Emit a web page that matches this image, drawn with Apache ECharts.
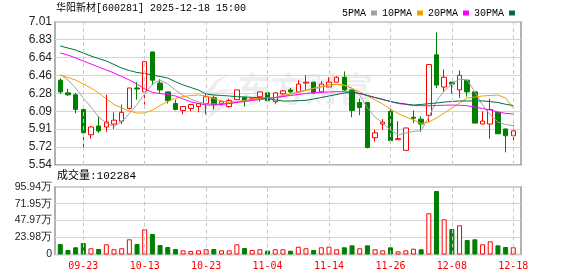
<!DOCTYPE html>
<html><head><meta charset="utf-8">
<script src="https://cdn.jsdelivr.net/npm/echarts@6/dist/echarts.min.js"></script>
<style>html,body{margin:0;padding:0;background:#fff}#c{width:578px;height:276px}</style>
</head><body><div id="c"></div><script>
const dates = ['09-18','09-19','09-22','09-23','09-24','09-25','09-26','09-29','09-30','10-09',
 '10-10','10-13','10-14','10-15','10-16','10-17','10-20','10-21','10-22','10-23',
 '10-24','10-27','10-28','10-29','10-30','10-31','11-03','11-04','11-05','11-06',
 '11-07','11-10','11-11','11-12','11-13','11-14','11-17','11-18','11-19','11-20',
 '11-21','11-24','11-25','11-26','11-27','11-28','12-01','12-02','12-03','12-04',
 '12-05','12-08','12-09','12-10','12-11','12-12','12-15','12-16','12-17','12-18'];
const openP = [6.41,6.28,6.26,6.11,5.85,5.94,5.93,5.96,5.99,6.12,
 6.33,6.29,6.70,6.38,6.29,6.17,6.10,6.12,6.14,6.17,
 6.23,6.17,6.14,6.21,6.23,6.21,6.24,6.28,6.19,6.27,
 6.31,6.29,6.38,6.39,6.29,6.34,6.39,6.44,6.31,6.18,
 6.18,5.82,5.96,6.09,5.80,5.69,6.03,6.01,6.05,6.67,
 6.34,6.39,6.31,6.41,6.29,5.96,5.96,6.08,5.91,5.84];
const closeP = [6.29,6.26,6.11,5.87,5.93,5.89,5.98,6.00,6.08,6.33,
 6.32,6.60,6.41,6.31,6.20,6.11,6.14,6.16,6.17,6.24,
 6.16,6.19,6.20,6.31,6.20,6.22,6.29,6.20,6.28,6.30,
 6.29,6.37,6.39,6.28,6.37,6.39,6.44,6.31,6.10,6.13,
 5.72,5.87,5.98,5.79,5.81,5.92,6.02,5.96,6.57,6.36,
 6.44,6.37,6.46,6.29,5.97,5.99,6.11,5.86,5.84,5.89];
const highP = [6.43,6.32,6.28,6.11,5.94,6.04,6.26,6.08,6.16,6.33,
 6.39,6.60,6.70,6.42,6.29,6.21,6.14,6.17,6.17,6.27,
 6.25,6.20,6.22,6.31,6.24,6.23,6.29,6.30,6.29,6.31,
 6.33,6.41,6.46,6.39,6.40,6.44,6.45,6.50,6.31,6.22,
 6.18,5.90,6.01,6.15,5.99,5.92,6.10,6.04,6.57,6.90,
 6.52,6.39,6.51,6.41,6.29,6.09,6.22,6.08,5.91,5.95];
const lowP = [6.27,6.25,6.07,5.72,5.81,5.87,5.88,5.91,5.96,6.11,
 6.21,6.16,6.36,6.28,6.17,6.10,6.06,6.09,6.08,6.06,
 6.11,6.15,6.13,6.21,6.14,6.20,6.19,6.19,6.17,6.26,
 6.28,6.29,6.31,6.27,6.28,6.34,6.39,6.30,6.03,6.05,
 5.71,5.78,5.90,5.76,5.80,5.69,5.97,5.88,5.98,6.33,
 6.29,6.27,6.23,6.24,5.97,5.96,5.81,5.86,5.67,5.78];
const ma5 = [6.468,6.412,6.330,6.227,6.135,6.032,5.971,5.935,5.986,6.068,
 6.161,6.268,6.371,6.412,6.371,6.309,6.253,6.217,6.186,6.166,
 6.166,6.166,6.171,6.186,6.202,6.207,6.217,6.227,6.232,6.243,
 6.268,6.289,6.309,6.325,6.340,6.361,6.366,6.356,6.330,6.258,
 6.125,6.032,5.971,5.899,5.848,5.868,5.884,5.894,6.032,6.197,
 6.299,6.371,6.422,6.412,6.289,6.155,6.053,5.981,5.955,5.945];
const ma10 = [6.463,6.438,6.412,6.371,6.330,6.279,6.217,6.161,6.125,6.094,
 6.073,6.073,6.104,6.150,6.191,6.224,6.243,6.253,6.258,6.248,
 6.222,6.197,6.183,6.191,6.202,6.217,6.224,6.227,6.232,6.253,
 6.268,6.284,6.304,6.327,6.345,6.366,6.368,6.361,6.325,6.289,
 6.248,6.207,6.166,6.114,6.068,6.032,6.002,5.966,5.981,6.022,
 6.073,6.125,6.176,6.227,6.238,6.248,6.253,6.258,6.227,6.125];
const ma20 = [6.689,6.668,6.638,6.607,6.576,6.545,6.515,6.484,6.448,6.412,
 6.371,6.320,6.284,6.273,6.263,6.248,6.217,6.189,6.171,6.155,
 6.155,6.161,6.171,6.181,6.191,6.202,6.212,6.222,6.232,6.243,
 6.253,6.263,6.273,6.282,6.286,6.289,6.292,6.292,6.289,6.273,
 6.253,6.232,6.212,6.191,6.171,6.161,6.150,6.148,6.148,6.150,
 6.153,6.155,6.153,6.148,6.135,6.120,6.104,6.084,6.070,6.063];
const ma30 = [6.761,6.740,6.720,6.689,6.658,6.632,6.607,6.571,6.535,6.509,
 6.489,6.479,6.463,6.448,6.432,6.394,6.361,6.335,6.309,6.268,
 6.258,6.253,6.248,6.241,6.238,6.234,6.230,6.222,6.207,6.197,
 6.197,6.200,6.204,6.217,6.232,6.248,6.263,6.279,6.286,6.273,
 6.253,6.232,6.212,6.191,6.176,6.166,6.155,6.161,6.169,6.176,
 6.186,6.191,6.197,6.197,6.197,6.197,6.191,6.181,6.163,6.150];
const volume = [148000,64000,102000,163000,88000,78000,144000,74000,88000,215000,
 148000,356000,290000,134000,106000,78000,59000,50000,59000,74000,
 78000,59000,59000,144000,92000,64000,74000,54000,74000,74000,
 54000,110000,88000,64000,102000,110000,74000,102000,130000,88000,
 130000,74000,59000,102000,45000,59000,82000,74000,583000,899000,
 498000,361000,413000,205000,215000,144000,187000,130000,106000,102284];
const priceTicks = ['5.54','5.72','5.91','6.09','6.28','6.46','6.64','6.83','7.01'];
const volTicks = ['0','23.98万','47.97万','71.95万','95.94万'];
const dateTicks = ['09-23','10-13','10-23','11-04','11-14','11-26','12-08','12-18'];
const priceMin = 5.54, priceMax = 7.01, volMax = 959400;
const maNames = ['5PMA','10PMA','20PMA','30PMA'];
const maColors = ['#a0a0a0','#f0a000','#ff00ff','#006f3c'];

const chart = echarts.init(document.getElementById('c'), null, {renderer:'canvas', devicePixelRatio:1});
const FL = 55, FW = 466, DL = 56.42, DW = 460.7;
const PT = 21.7, PH = 143.3, VT = 186.7, VH = 67.8;
const candle = dates.map((d,i)=>[openP[i], closeP[i], lowP[i], highP[i]]);
const volData = volume.map((v,i)=>{
  const up = i===0 ? closeP[i]>=openP[i] : closeP[i]>=closeP[i-1];
  return {value:v, itemStyle: up ? {color:'#ffffff',borderColor:'#ff0000',borderWidth:1}
                                 : {color:'#008000',borderColor:'#008000',borderWidth:1}};
});
const vLines = () => ({silent:true, symbol:'none', animation:false, label:{show:false},
  lineStyle:{color:'#c8c8c8', type:[4,3], width:1}, data: dateTicks.map(d=>({xAxis:d}))});
const hidden = {show:false};
const wm = 'rgba(0,0,0,0.065)';
const option = {
  animation:false,
  legend:{left:337, top:3, align:'right', itemWidth:6, itemHeight:5, itemGap:5, icon:'rect',
    selectedMode:false, data:maNames,
    textStyle:{fontFamily:'"Liberation Mono", monospace', fontSize:10, color:'#000'}},
  grid:[
    {left:FL, width:FW, top:PT, height:PH, show:true, borderColor:'#999', borderWidth:1.5, backgroundColor:'transparent'},
    {left:DL, width:DW, top:PT, height:PH},
    {left:FL, width:FW, top:VT, height:VH, show:true, borderColor:'#999', borderWidth:1.5, backgroundColor:'transparent'},
    {left:DL, width:DW, top:VT, height:VH}
  ],
  xAxis:[
    {gridIndex:0, type:'value', show:false, min:0, max:1},
    {gridIndex:1, type:'category', data:dates, boundaryGap:true, show:false},
    {gridIndex:2, type:'value', show:false, min:0, max:1},
    {gridIndex:3, type:'category', data:dates, boundaryGap:true,
      axisLine:hidden, axisTick:hidden, splitLine:hidden,
      axisLabel:{show:true, interval:(i,v)=>dateTicks.includes(v), color:'#ff0000',
        fontFamily:'"DejaVu Sans Mono", monospace', fontSize:10, margin:7}}
  ],
  yAxis:[
    {gridIndex:0, type:'category', data:priceTicks, boundaryGap:false, axisLine:hidden, axisTick:hidden,
      axisLabel:{fontSize:12, margin:3, interval:0, fontFamily:'"Liberation Sans", Arial, sans-serif', color:'#222'},
      splitLine:{show:true, interval:0, lineStyle:{color:'#d4d4d4', width:1}}},
    {gridIndex:1, type:'value', min:priceMin, max:priceMax, show:false, splitLine:hidden},
    {gridIndex:2, type:'category', data:volTicks, boundaryGap:false, axisLine:hidden, axisTick:hidden,
      axisLabel:{fontSize:10.5, margin:3, interval:0, fontFamily:'"Liberation Sans", sans-serif', color:'#222'},
      splitLine:{show:true, interval:0, lineStyle:{color:'#d4d4d4', width:1}}},
    {gridIndex:3, type:'value', min:0, max:volMax, show:false, splitLine:hidden}
  ],
  series:[
    {type:'candlestick', xAxisIndex:1, yAxisIndex:1, data:candle, barWidth:5,
      itemStyle:{color:'#ffffff', color0:'#008000', borderColor:'#ff0000', borderColor0:'#008000', borderWidth:1},
      markLine:vLines(), z:3},
    ...[ma5, ma10, ma20, ma30].map((d,k)=>({type:'line', name:maNames[k], xAxisIndex:1, yAxisIndex:1,
      data:d, symbol:'none', showSymbol:false, lineStyle:{color:maColors[k], width:1},
      itemStyle:{color:maColors[k]}, z:4})),
    {type:'bar', xAxisIndex:3, yAxisIndex:3, data:volData, barWidth:5, markLine:vLines(), z:3}
  ],
  graphic:[
    {type:'polygon', silent:true, z:-1,
      shape:{points:[[229,74],[216,80],[206,92],[202,106],[202,118],[208,104],[216,95],[233,90],[222,89],[212,93],[218,83]]},
      style:{fill:wm}},
    {type:'polygon', silent:true, z:-1,
      shape:{points:[[234,95],[222,100],[212,108],[208,119],[218,111],[235,104]]},
      style:{fill:wm}},
    {type:'text', left:237, top:72, silent:true, z:-1,
      style:{text:'东方财富', fontSize:34, fontWeight:'bold', fontFamily:'"Noto Sans CJK SC"', fill:wm}},
    {type:'text', left:56, top:3, style:{text:'华阳新材[600281] 2025-12-18 15:00',
      font:'10px "Liberation Mono", "Noto Sans CJK SC", monospace', fill:'#000'}},
    {type:'text', left:57, top:171, style:{text:'成交量:102284',
      font:'11px "Liberation Mono", "Noto Sans CJK SC", monospace', fill:'#000'}}
  ]
};
chart.setOption(option);
</script></body></html>
